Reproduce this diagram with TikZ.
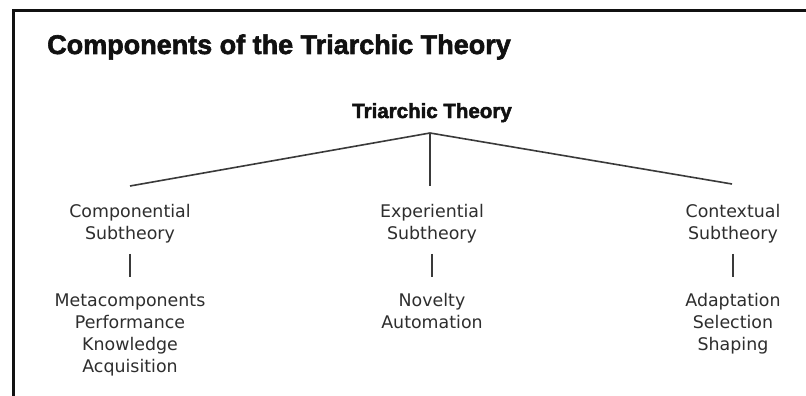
\documentclass[tikz,border=0pt]{standalone}
\usepackage{fontspec}
\setmainfont{DejaVu Sans}
\newfontfamily\headfont{Liberation Sans}[FakeBold=2.2]
\definecolor{ink}{HTML}{111111}
\definecolor{body}{HTML}{2E2E2E}
\definecolor{branch}{HTML}{3A3A3A}
\begin{document}
\begin{tikzpicture}[x=1pt,y=-1pt,
  frame/.style={line width=3pt,ink},
  branchline/.style={line width=1.6pt,branch},
  titletext/.style={inner sep=0pt,anchor=base west,text=ink,font=\headfont\bfseries\fontsize{27}{30}\selectfont},
  roottext/.style={inner sep=0pt,anchor=base,text=ink,font=\headfont\bfseries\fontsize{20.5}{24}\selectfont},
  subtext/.style={inner sep=0pt,anchor=base,align=center,text=body,font=\fontsize{17.4}{22}\selectfont},
  tick/.style={branchline,shorten <=11pt,shorten >=16pt}]
\useasboundingbox (0,0) rectangle (806,396);
\fill[white] (0,0) rectangle (806,396);
\draw[frame] (13,396) -- (13,11) -- (806,11);
\node[titletext] (title) at (47,54) {Components of the Triarchic Theory};
\node[roottext] (root) at (432,118) {Triarchic Theory};
\coordinate (apex) at (430,133);
\coordinate (lend) at (130,186);
\coordinate (mend) at (430,186);
\coordinate (rend) at (732,184);
\draw[branchline] (lend) -- (apex) -- (rend);
\draw[branchline] (apex) -- (mend);
\node[subtext] (comp) at (130,239) {Componential\\Subtheory};
\node[subtext] (expe) at (432,239) {Experiential\\Subtheory};
\node[subtext] (cont) at (733,239) {Contextual\\Subtheory};
\node[subtext] (compl) at (130,372) {Metacomponents\\Performance\\Knowledge\\Acquisition};
\node[subtext] (expel) at (432,328) {Novelty\\Automation};
\node[subtext] (contl) at (733,350) {Adaptation\\Selection\\Shaping};
\draw[tick] (comp.south) -- (compl.north);
\draw[tick] (expe.south) -- (expel.north);
\draw[tick] (cont.south) -- (contl.north);
\end{tikzpicture}
\end{document}
